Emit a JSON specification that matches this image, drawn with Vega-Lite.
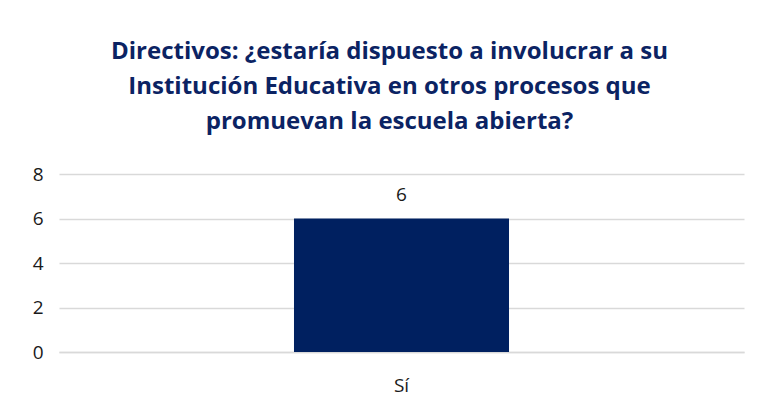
{
  "$schema": "https://vega.github.io/schema/vega-lite/v6.json",
  "autosize": {"type": "none"},
  "width": 685,
  "height": 178,
  "padding": {"left": 59, "top": 174, "right": 19, "bottom": 58},
  "background": "white",
  "data": {"values": [{"respuesta": "Sí", "cantidad": 6}]},
  "title": {
    "text": ["Directivos: ¿estaría dispuesto a involucrar a su", "Institución Educativa en otros procesos que", "promuevan la escuela abierta?"],
    "font": "Open Sans",
    "fontSize": 24,
    "fontWeight": "bold",
    "color": "#0B2363",
    "lineHeight": 35,
    "anchor": "middle",
    "dx": -12,
    "offset": 31
  },
  "config": {
    "view": {"stroke": null},
    "axis": {"labelFont": "Open Sans", "labelFontSize": 19, "labelColor": "#1a1a1a"}
  },
  "encoding": {
    "x": {
      "field": "respuesta", "type": "nominal",
      "scale": {"paddingInner": 0.085, "paddingOuter": 1},
      "axis": {"title": null, "labelAngle": 0, "ticks": false, "domainColor": "#d9d9d9", "domainWidth": 1.5, "labelPadding": 24}
    },
    "y": {
      "field": "cantidad", "type": "quantitative",
      "scale": {"domain": [0, 8]},
      "axis": {"title": null, "values": [0, 2, 4, 6, 8], "domain": false, "ticks": false, "gridColor": "#d9d9d9", "gridWidth": 1.5, "labelPadding": 16}
    }
  },
  "layer": [
    {"mark": {"type": "bar", "color": "#002060"}},
    {"mark": {"type": "text", "font": "Open Sans", "fontSize": 19, "color": "#1a1a1a", "baseline": "bottom", "dy": -14}, "encoding": {"text": {"field": "cantidad"}}}
  ]
}
